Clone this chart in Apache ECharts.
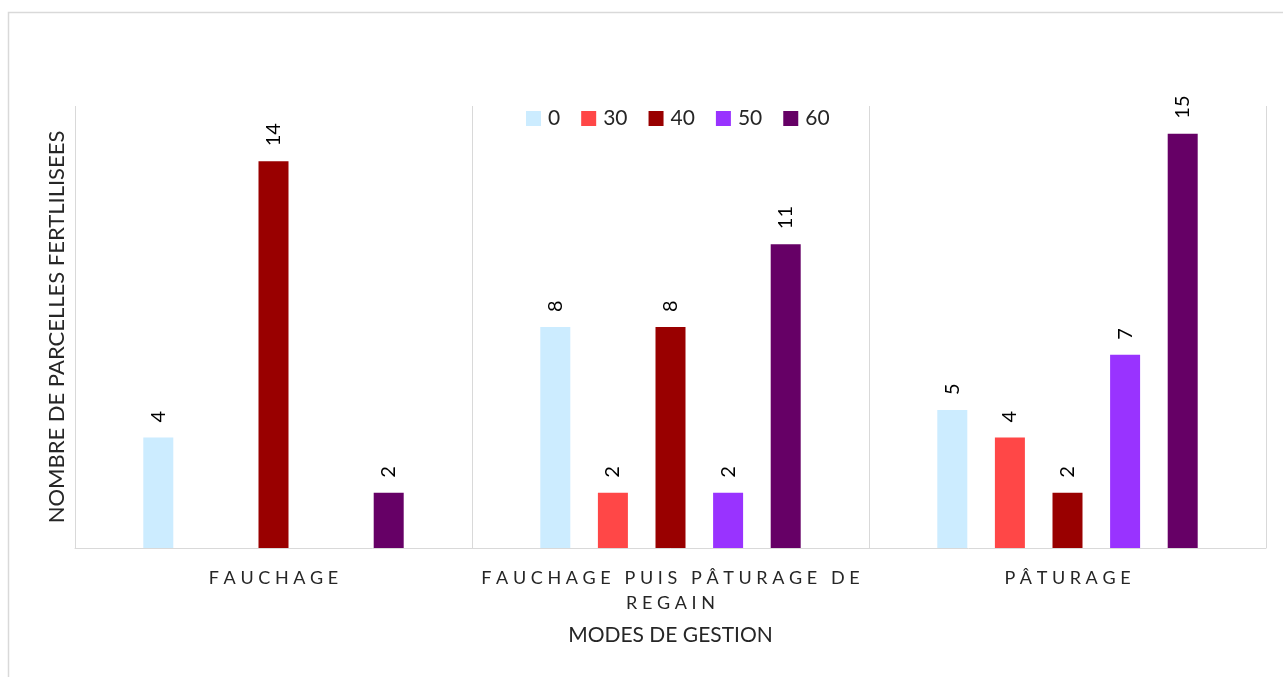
<!DOCTYPE html>
<html>
<head>
<meta charset="utf-8">
<title>Parcelles fertilisées par mode de gestion</title>
<script src="https://cdn.jsdelivr.net/npm/echarts@6/dist/echarts.min.js"></script>
<style>
  html, body { margin: 0; padding: 0; background: #ffffff; }
  #chart { width: 1283px; height: 677px; }
</style>
</head>
<body>
<div id="chart"></div>
<script>
// Modes de gestion (catégories) et doses de fertilisation (séries)
const categories = ['FAUCHAGE', 'FAUCHAGE PUIS PÂTURAGE DE REGAIN', 'PÂTURAGE'];
const seriesNames = ['0', '30', '40', '50', '60'];
const seriesColors = ['#CCECFF', '#FF4747', '#990000', '#9933FF', '#660066'];

// Nombre de parcelles, par dose, dans l'ordre des catégories
const dose0  = [4, 8, 5];
const dose30 = [null, 2, 4];
const dose40 = [14, 8, 2];
const dose50 = [null, 2, 7];
const dose60 = [2, 11, 15];

const seriesValues = [dose0, dose30, dose40, dose50, dose60];

const FONT = 'Lato, "Open Sans", sans-serif';
const TEXT = '#262626';

// Spread the letters of an axis label and wrap long labels on whole words
function spacedLabel(value) {
  const words = value.split(' ');
  const lines = [];
  let line = [];
  let len = 0;
  words.forEach(w => {
    if (line.length && len + 1 + w.length > 26) {
      lines.push(line);
      line = [];
      len = 0;
    }
    len += (line.length ? 1 : 0) + w.length;
    line.push(w);
  });
  if (line.length) lines.push(line);
  return lines
    .map(ws => ws.map(w => w.split('').join(' ')).join('   '))
    .join('\n');
}

const chart = echarts.init(document.getElementById('chart'));

chart.setOption({
  animation: false,
  backgroundColor: '#ffffff',
  textStyle: { fontFamily: FONT },
  graphic: [{
    type: 'rect',
    silent: true,
    shape: { x: 8.5, y: 12.5, width: 1300, height: 700 },
    style: { fill: 'none', stroke: '#d9d9d9', lineWidth: 1.5 }
  }],
  legend: {
    data: seriesNames,
    left: 526,
    top: 108,
    padding: 0,
    itemWidth: 15,
    itemHeight: 15,
    itemGap: 21,
    icon: 'rect',
    textStyle: { fontSize: 21, color: TEXT, fontFamily: FONT, padding: [0, 0, 0, 2] }
  },
  grid: { left: 75, right: 17, top: 106, bottom: 129, containLabel: false },
  xAxis: {
    type: 'category',
    data: categories,
    name: 'MODES DE GESTION',
    nameLocation: 'middle',
    nameGap: 77,
    nameTextStyle: { fontSize: 21, color: TEXT, fontFamily: FONT },
    axisLine: { show: true, lineStyle: { color: '#d9d9d9', width: 1 } },
    axisTick: { show: false },
    splitLine: { show: true, lineStyle: { color: '#d9d9d9', width: 1 } },
    axisLabel: {
      interval: 0,
      margin: 18,
      fontSize: 18,
      lineHeight: 25,
      color: TEXT,
      fontFamily: FONT,
      formatter: spacedLabel
    }
  },
  yAxis: {
    type: 'value',
    min: 0,
    max: 16,
    name: 'NOMBRE DE PARCELLES FERTLILISEES',
    nameLocation: 'middle',
    nameGap: 7,
    nameTextStyle: { fontSize: 22, color: TEXT, fontFamily: FONT },
    axisLine: { show: false },
    axisTick: { show: false },
    axisLabel: { show: false },
    splitLine: { show: false }
  },
  series: seriesNames.map((name, i) => ({
    name: name,
    type: 'bar',
    data: seriesValues[i],
    barWidth: 30,
    barGap: '92%',
    itemStyle: { color: seriesColors[i] },
    label: {
      show: true,
      position: 'top',
      distance: 15,
      rotate: 90,
      align: 'left',
      verticalAlign: 'middle',
      fontSize: 20,
      color: '#000000',
      fontFamily: FONT
    }
  }))
});
</script>
</body>
</html>
